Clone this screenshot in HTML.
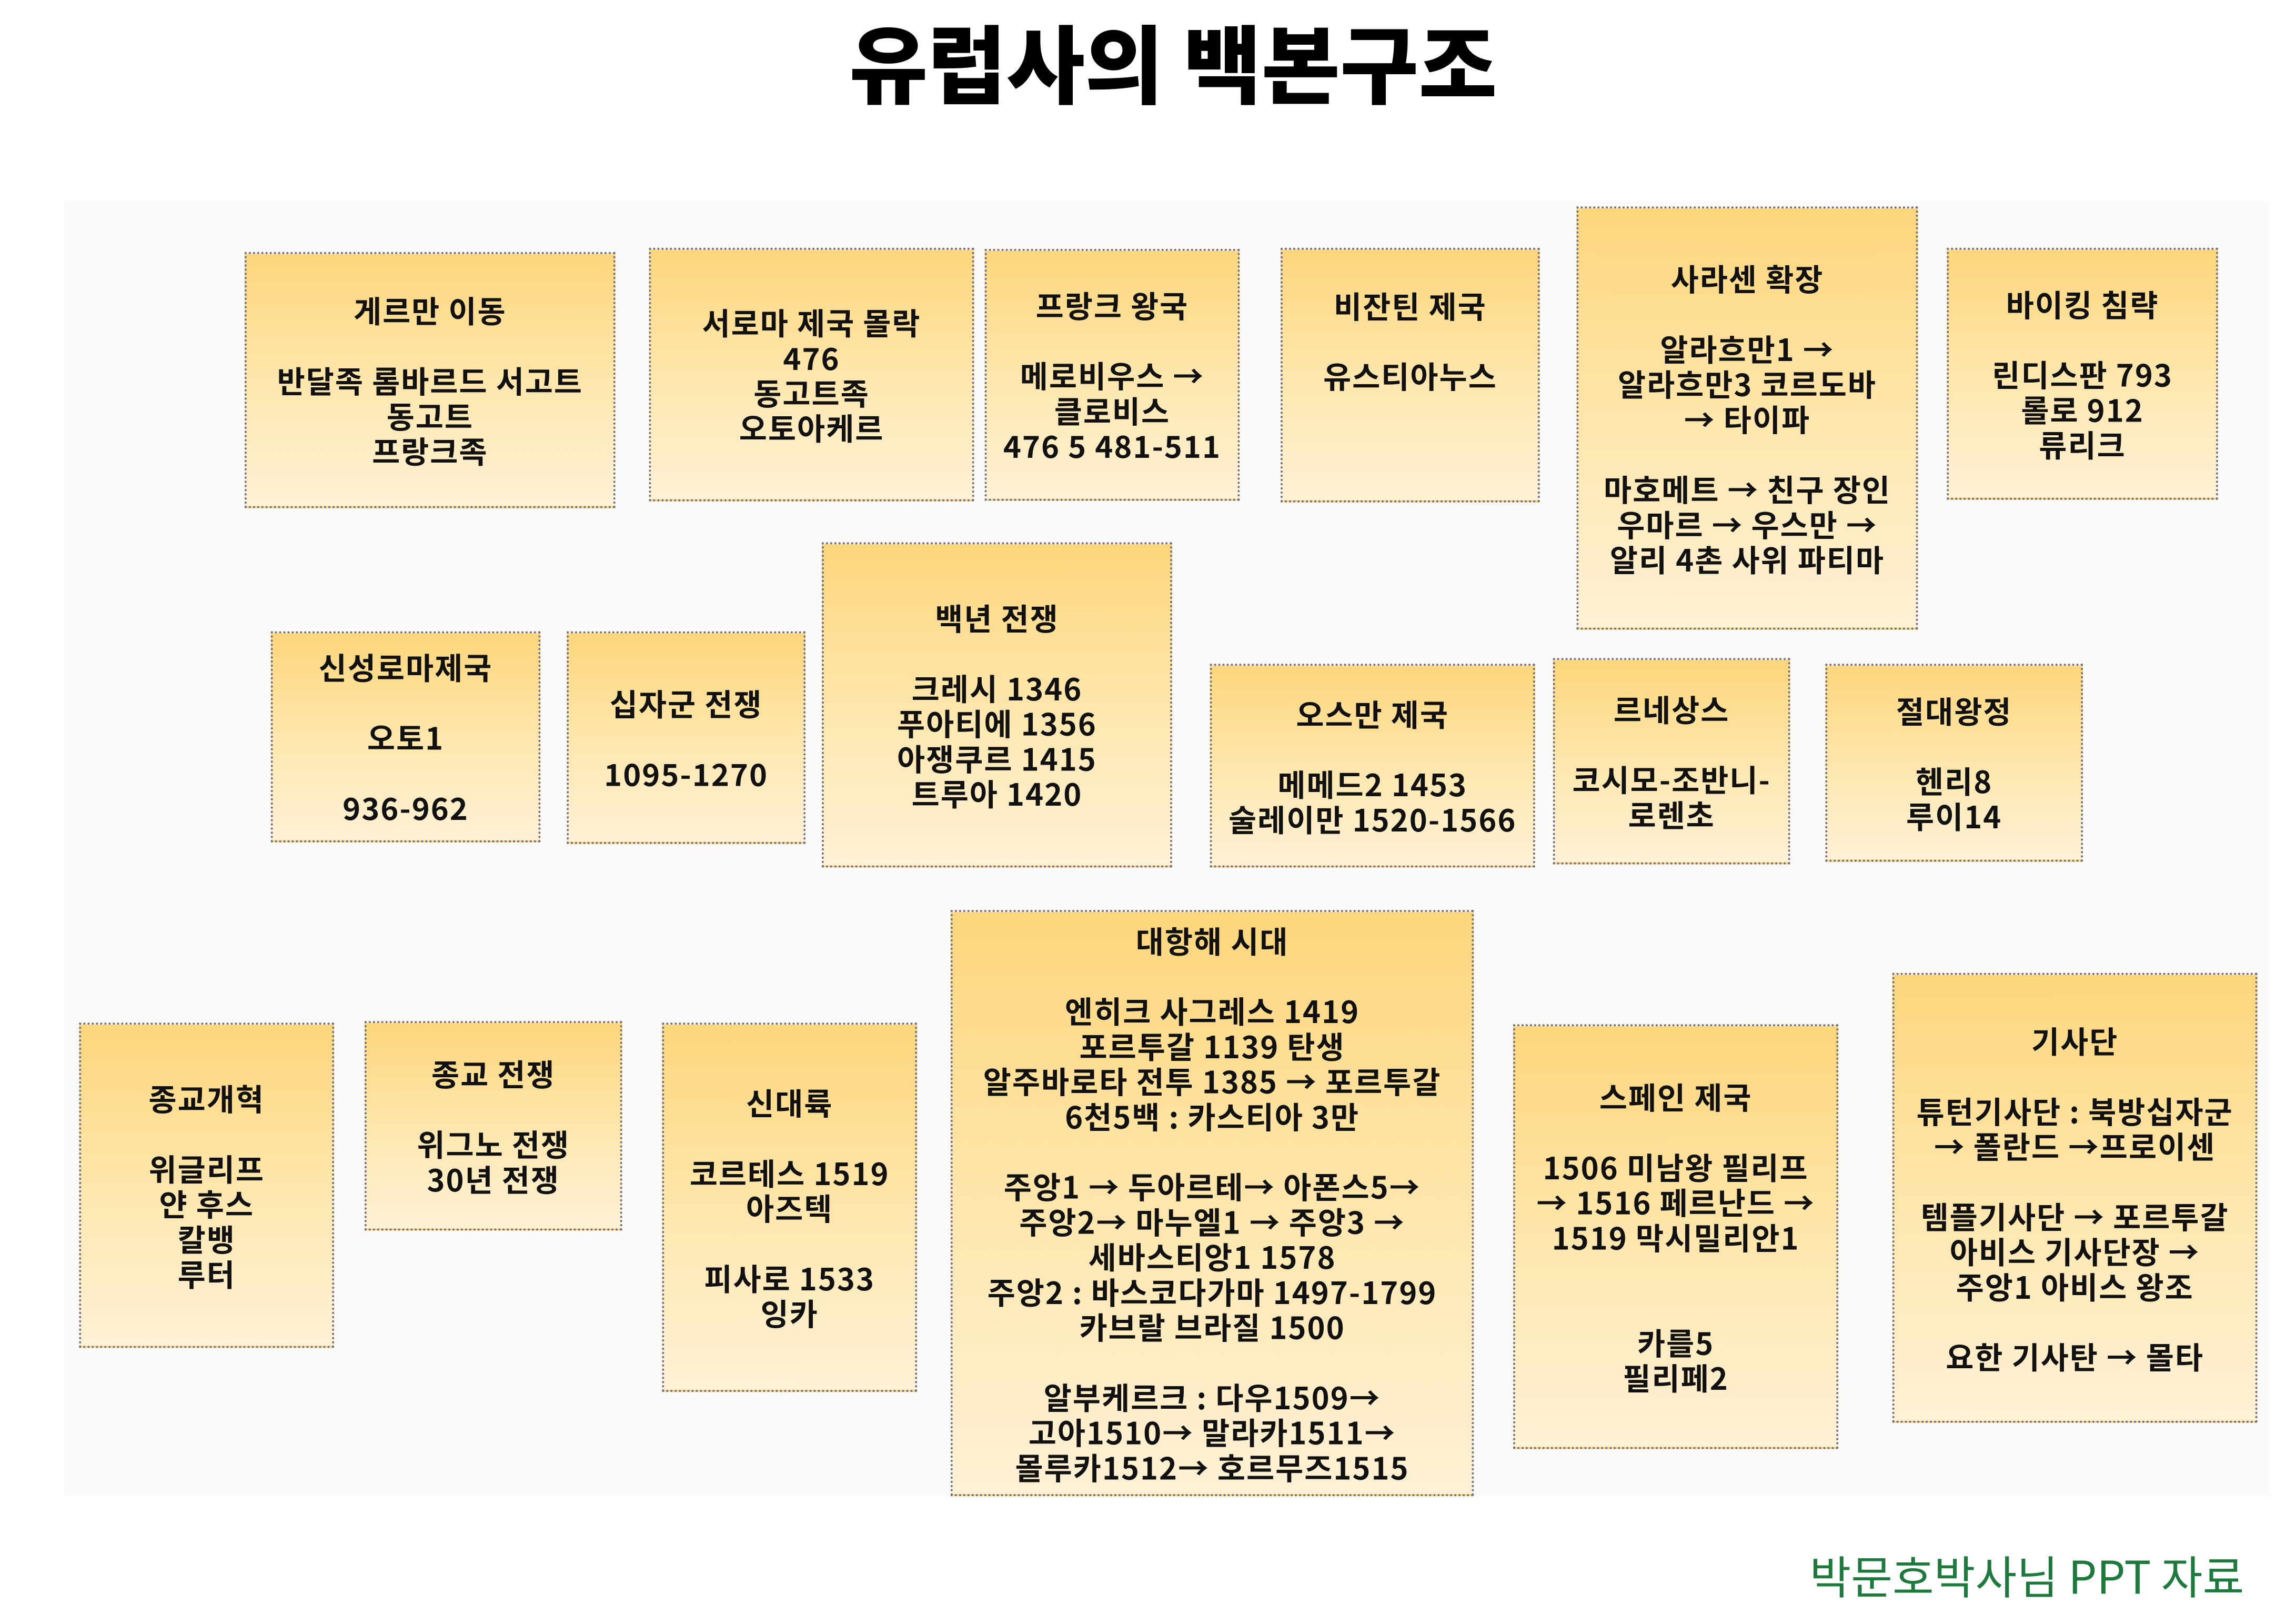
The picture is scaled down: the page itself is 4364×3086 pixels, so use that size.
<!DOCTYPE html>
<html><head><meta charset="utf-8"><style>
html,body{margin:0;padding:0;background:#fff;}
body{width:4364px;height:3086px;position:relative;overflow:hidden;font-family:"Liberation Sans","Noto Sans CJK KR",sans-serif;}
#w{position:absolute;left:0;top:0;width:4400px;height:3100px;transform:scale(0.9955);transform-origin:0 0;}
.title{position:absolute;left:0;width:4480px;top:14px;text-align:center;font-size:163px;font-weight:900;line-height:200px;color:#000;font-family:"Noto Sans CJK KR",sans-serif;}
.panel{position:absolute;left:123px;top:383px;width:4212px;height:2473px;background:#fafafa;}
.b{position:absolute;box-sizing:border-box;border:4px dotted #6a6e8a;background:linear-gradient(180deg,#fdd67c 0%,#fee6ac 50%,#fff1d6 100%);display:flex;flex-direction:column;justify-content:center;align-items:center;text-align:center;font-family:"Noto Sans CJK KR",sans-serif;font-weight:700;font-size:58px;line-height:67px;letter-spacing:2px;color:#111;white-space:nowrap;}
.b div{height:67px;}
.foot{position:absolute;left:3455px;top:2955px;font-size:86px;line-height:100px;color:#1d7a3c;font-family:"Noto Sans CJK KR",sans-serif;}
</style></head><body><div id="w">
<div class="title">유럽사의 백본구조</div>
<div class="panel"></div>

<div class="b" style="left:467px;top:481px;width:708px;height:489px"><div>게르만 이동</div><div></div><div>반달족 롬바르드 서고트</div><div>동고트</div><div>프랑크족</div></div>
<div class="b" style="left:1239px;top:473px;width:621px;height:484px"><div>서로마 제국 몰락</div><div>476</div><div>동고트족</div><div>오토아케르</div></div>
<div class="b" style="left:1880px;top:475px;width:487px;height:481px"><div>프랑크 왕국</div><div></div><div>메로비우스 →</div><div>클로비스</div><div>476 5 481-511</div></div>
<div class="b" style="left:2445px;top:473px;width:495px;height:486px;justify-content:flex-start;padding-top:72px"><div>비잔틴 제국</div><div></div><div>유스티아누스</div></div>
<div class="b" style="left:3010px;top:394px;width:652px;height:808px"><div>사라센 확장</div><div></div><div>알라흐만1 →</div><div>알라흐만3 코르도바</div><div>→ 타이파</div><div></div><div>마호메트 → 친구 장인</div><div>우마르 → 우스만 →</div><div>알리 4촌 사위 파티마</div></div>
<div class="b" style="left:3717px;top:473px;width:518px;height:481px"><div>바이킹 침략</div><div></div><div>린디스판 793</div><div>롤로 912</div><div>류리크</div></div>

<div class="b" style="left:517px;top:1205px;width:515px;height:403px"><div>신성로마제국</div><div></div><div>오토1</div><div></div><div>936-962</div></div>
<div class="b" style="left:1082px;top:1205px;width:456px;height:406px"><div>십자군 전쟁</div><div></div><div>1095-1270</div></div>
<div class="b" style="left:1569px;top:1035px;width:669px;height:621px"><div>백년 전쟁</div><div></div><div>크레시 1346</div><div>푸아티에 1356</div><div>아쟁쿠르 1415</div><div>트루아 1420</div></div>
<div class="b" style="left:2310px;top:1267px;width:621px;height:389px"><div>오스만 제국</div><div></div><div>메메드2 1453</div><div>술레이만 1520-1566</div></div>
<div class="b" style="left:2965px;top:1256px;width:453px;height:394px"><div>르네상스</div><div></div><div>코시모-조반니-</div><div>로렌초</div></div>
<div class="b" style="left:3485px;top:1267px;width:492px;height:378px"><div>절대왕정</div><div></div><div>헨리8</div><div>루이14</div></div>

<div class="b" style="left:151px;top:1952px;width:487px;height:621px"><div>종교개혁</div><div></div><div>위글리프</div><div>얀 후스</div><div>칼뱅</div><div>루터</div></div>
<div class="b" style="left:696px;top:1949px;width:492px;height:400px"><div>종교 전쟁</div><div></div><div>위그노 전쟁</div><div>30년 전쟁</div></div>
<div class="b" style="left:1264px;top:1952px;width:487px;height:705px"><div>신대륙</div><div></div><div>코르테스 1519</div><div>아즈텍</div><div></div><div>피사로 1533</div><div>잉카</div></div>
<div class="b" style="left:1815px;top:1737px;width:999px;height:1119px"><div>대항해 시대</div><div></div><div>엔히크 사그레스 1419</div><div>포르투갈 1139 탄생</div><div>알주바로타 전투 1385 → 포르투갈</div><div>6천5백 : 카스티아 3만</div><div></div><div>주앙1 → 두아르테→ 아폰스5→</div><div>주앙2→ 마누엘1 → 주앙3 →</div><div>세바스티앙1 1578</div><div>주앙2 : 바스코다가마 1497-1799</div><div>카브랄 브라질 1500</div><div></div><div>알부케르크 : 다우1509→</div><div>고아1510→ 말라카1511→</div><div>몰루카1512→ 호르무즈1515</div></div>
<div class="b" style="left:2889px;top:1955px;width:621px;height:811px"><div>스페인 제국</div><div></div><div>1506 미남왕 필리프</div><div>→ 1516 페르난드 →</div><div>1519 막시밀리안1</div><div></div><div></div><div>카를5</div><div>필리페2</div></div>
<div class="b" style="left:3613px;top:1857px;width:697px;height:859px"><div>기사단</div><div></div><div>튜턴기사단 : 북방십자군</div><div>→ 폴란드 →프로이센</div><div></div><div>템플기사단 → 포르투갈</div><div>아비스 기사단장 →</div><div>주앙1 아비스 왕조</div><div></div><div>요한 기사탄 → 몰타</div></div>

<div class="foot">박문호박사님 PPT 자료</div>
</div></body></html>
